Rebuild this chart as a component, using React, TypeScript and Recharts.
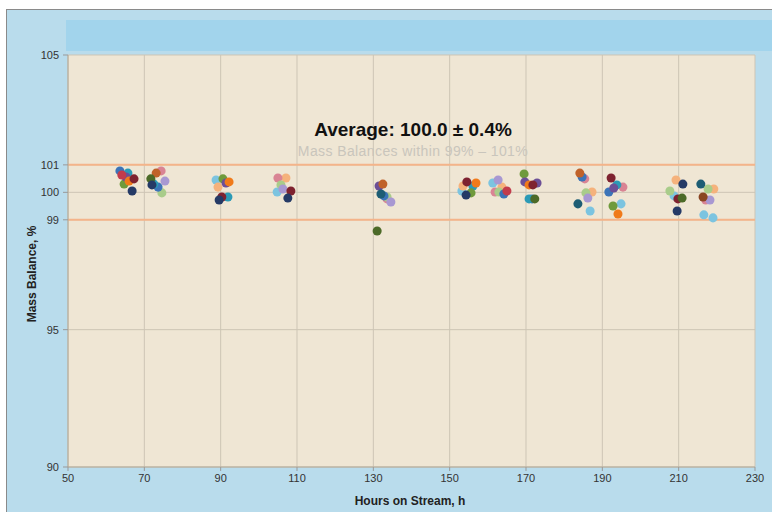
import { ScatterChart, Scatter, XAxis, YAxis, ZAxis, CartesianGrid, ReferenceLine } from 'recharts';

const xTicks = [50, 70, 90, 110, 130, 150, 170, 190, 210, 230];
const yTicks = [90, 95, 99, 100, 101, 105];
const limits = [99, 101];

// hours on stream, mass balance % — grouped by marker colour
const navy = [
  { x: 66.8, y: 100.05 }, { x: 72.0, y: 100.27 }, { x: 89.6, y: 99.72 }, { x: 107.6, y: 99.79 },
  { x: 154.3, y: 99.9 }, { x: 209.6, y: 99.32 }, { x: 211.1, y: 100.3 },
];
const darkRed = [
  { x: 67.3, y: 100.49 }, { x: 90.3, y: 99.83 }, { x: 108.4, y: 100.05 }, { x: 154.5, y: 100.38 },
  { x: 171.8, y: 100.27 }, { x: 192.3, y: 100.52 }, { x: 209.8, y: 99.76 },
];
const red = [{ x: 64.1, y: 100.63 }, { x: 165.0, y: 100.05 }];
const teal = [
  { x: 65.7, y: 100.7 }, { x: 72.5, y: 100.3 }, { x: 91.9, y: 99.83 }, { x: 156.1, y: 100.23 },
  { x: 170.8, y: 99.76 }, { x: 193.8, y: 100.27 },
];
const darkTeal = [{ x: 132.0, y: 99.94 }, { x: 183.6, y: 99.58 }, { x: 215.8, y: 100.3 }];
const blue = [
  { x: 63.6, y: 100.78 }, { x: 73.6, y: 100.19 }, { x: 132.8, y: 99.87 }, { x: 164.2, y: 99.94 },
  { x: 171.6, y: 99.76 }, { x: 184.7, y: 100.56 }, { x: 191.7, y: 100.01 },
];
const orange = [
  { x: 66.0, y: 100.41 }, { x: 92.2, y: 100.38 }, { x: 156.9, y: 100.34 }, { x: 170.8, y: 100.27 },
  { x: 194.1, y: 99.21 },
];
const rust = [{ x: 73.1, y: 100.7 }, { x: 132.5, y: 100.3 }, { x: 184.1, y: 100.7 }];
const peach = [
  { x: 89.3, y: 100.19 }, { x: 107.1, y: 100.52 }, { x: 153.5, y: 100.23 }, { x: 163.7, y: 100.19 },
  { x: 187.3, y: 100.01 }, { x: 209.3, y: 100.45 }, { x: 219.2, y: 100.12 },
];
const purple = [
  { x: 65.2, y: 100.56 }, { x: 91.4, y: 100.34 }, { x: 131.5, y: 100.23 }, { x: 169.7, y: 100.38 },
  { x: 193.0, y: 100.16 }, { x: 172.9, y: 100.34 },
];
const lavender = [
  { x: 75.4, y: 100.41 }, { x: 106.3, y: 100.12 }, { x: 134.6, y: 99.65 }, { x: 162.7, y: 100.45 },
  { x: 186.2, y: 99.79 }, { x: 218.2, y: 99.72 },
];
const green = [
  { x: 64.7, y: 100.3 }, { x: 90.6, y: 100.49 }, { x: 155.6, y: 99.98 }, { x: 169.5, y: 100.67 },
  { x: 192.8, y: 99.5 },
];
const darkGreen = [{ x: 71.7, y: 100.49 }, { x: 131.0, y: 98.59 }, { x: 172.3, y: 99.76 }, { x: 210.9, y: 99.79 }];
const lightGreen = [
  { x: 74.6, y: 99.98 }, { x: 105.8, y: 100.27 }, { x: 133.6, y: 99.83 }, { x: 162.9, y: 100.01 },
  { x: 185.7, y: 99.98 }, { x: 207.7, y: 100.05 }, { x: 217.7, y: 100.12 },
];
const lightBlue = [
  { x: 88.8, y: 100.45 }, { x: 104.8, y: 100.01 }, { x: 153.2, y: 100.05 }, { x: 161.3, y: 100.34 },
  { x: 186.8, y: 99.32 }, { x: 194.9, y: 99.58 }, { x: 208.8, y: 99.87 }, { x: 216.6, y: 99.18 },
  { x: 219.0, y: 99.07 },
];
const pink = [
  { x: 74.4, y: 100.78 }, { x: 105.0, y: 100.52 }, { x: 133.6, y: 99.76 }, { x: 161.9, y: 100.01 },
  { x: 185.4, y: 100.49 }, { x: 195.4, y: 100.19 }, { x: 217.1, y: 99.72 },
];
const brown = [{ x: 216.4, y: 99.83 }];

const series = [
  { name: 'lightBlue', data: lightBlue, color: '#7cc4e0' },
  { name: 'peach', data: peach, color: '#f5b27c' },
  { name: 'pink', data: pink, color: '#d98494' },
  { name: 'lightGreen', data: lightGreen, color: '#a9cc8a' },
  { name: 'lavender', data: lavender, color: '#a898d2' },
  { name: 'blue', data: blue, color: '#3c74b8' },
  { name: 'teal', data: teal, color: '#2b9ab6' },
  { name: 'green', data: green, color: '#6f9a3c' },
  { name: 'purple', data: purple, color: '#6c4f96' },
  { name: 'orange', data: orange, color: '#f07a1a' },
  { name: 'rust', data: rust, color: '#c0622a' },
  { name: 'red', data: red, color: '#c23c4c' },
  { name: 'brown', data: brown, color: '#8a4522' },
  { name: 'darkRed', data: darkRed, color: '#7e2230' },
  { name: 'darkTeal', data: darkTeal, color: '#1d5d74' },
  { name: 'darkGreen', data: darkGreen, color: '#4c6a28' },
  { name: 'navy', data: navy, color: '#253a66' },
];

const tickFont = "'Liberation Sans Narrow', 'Arial Narrow', 'Liberation Sans', Arial, sans-serif";

export default function App() {
  return (
    <div style={{ position: 'absolute', left: 0, top: 0, width: 772, height: 512, background: '#fff', overflow: 'hidden' }}>
      <div style={{ position: 'absolute', left: 6, top: 9, width: 766, height: 503, background: '#b9dcec', borderTop: '1px solid #8a8a8a', borderLeft: '1px solid #8a8a8a' }} />
      <div style={{ position: 'absolute', left: 66, top: 20, width: 706, height: 31, background: '#a2d4ec' }} />
      <ScatterChart
        width={772}
        height={512}
        margin={{ top: 55, right: 17, bottom: 15, left: 28 }}
        style={{ position: 'absolute', left: 0, top: 0 }}
      >
        <CartesianGrid fill="#efe6d4" stroke="#cdc5b5" strokeWidth={1} />
        <XAxis
          type="number"
          dataKey="x"
          domain={[50, 230]}
          ticks={xTicks}
          interval={0}
          height={30}
          tickSize={4}
          tickMargin={3}
          axisLine={{ stroke: '#b0a898' }}
          tickLine={{ stroke: '#999' }}
          tick={{ fontSize: 11, fill: '#333', fontFamily: tickFont }}
        />
        <YAxis
          type="number"
          dataKey="y"
          domain={[90, 105]}
          ticks={yTicks}
          interval={0}
          width={40}
          tickSize={5}
          tickMargin={4}
          axisLine={{ stroke: '#b0a898' }}
          tickLine={{ stroke: '#999' }}
          tick={{ fontSize: 11, fill: '#333', fontFamily: tickFont }}
        />
        <ZAxis range={[64, 64]} />
        {limits.map(v => (
          <ReferenceLine key={v} y={v} stroke="#f4b48a" strokeWidth={2} />
        ))}
        {series.map(s => (
          <Scatter key={s.name} name={s.name} data={s.data} fill={s.color} isAnimationActive={false} />
        ))}
      </ScatterChart>
      <div style={{ position: 'absolute', left: 213, width: 400, top: 119, textAlign: 'center', fontFamily: 'Liberation Sans, Arial, sans-serif', fontWeight: 'bold', fontSize: 19, color: '#111' }}>
        Average: 100.0 ± 0.4%
      </div>
      <div style={{ position: 'absolute', left: 213, width: 400, top: 143, textAlign: 'center', fontFamily: 'Liberation Sans, Arial, sans-serif', fontSize: 14, color: '#c9c5bc', letterSpacing: 0.4 }}>
        Mass Balances within 99% – 101%
      </div>
      <div style={{ position: 'absolute', left: 310, width: 200, top: 494, textAlign: 'center', fontFamily: tickFont, fontWeight: 'bold', fontSize: 12, color: '#222' }}>
        Hours on Stream, h
      </div>
      <div style={{ position: 'absolute', left: 32, top: 275, width: 0, height: 0 }}>
        <div style={{ position: 'absolute', left: -60, top: -8, width: 120, textAlign: 'center', transform: 'rotate(-90deg)', fontFamily: tickFont, fontWeight: 'bold', fontSize: 12, color: '#222', whiteSpace: 'nowrap' }}>
          Mass Balance, %
        </div>
      </div>
    </div>
  );
}
